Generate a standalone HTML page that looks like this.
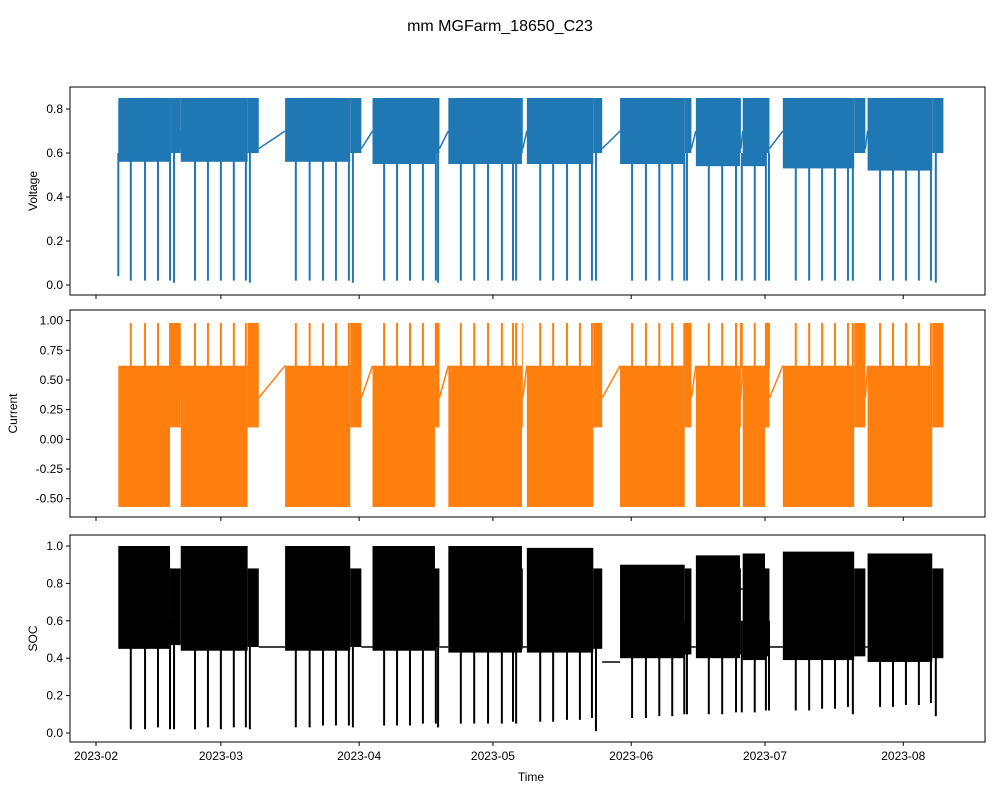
<!DOCTYPE html>
<html><head><meta charset="utf-8">
<style>
html,body{margin:0;padding:0;background:#fff;}
svg{display:block;font-family:"Liberation Sans","DejaVu Sans",sans-serif;}
</style></head>
<body>
<svg id="chart" width="1000" height="800" viewBox="0 0 1000 800">
<text x="500" y="31" text-anchor="middle" font-size="16">mm MGFarm_18650_C23</text>
</svg>
<script>
// day offsets from 2023-02-01
const blockStart = [5, 19, 42.4, 62, 79, 96.6, 117.5, 134.5, 145, 154, 173];
const blockEnd   = [16.6, 34, 57, 76, 95.5, 111.5, 132, 144.4, 150, 170, 187.5];
const tailEnd    = [19, 36.5, 59.5, 77, 95.7, 113.5, 133.5, 144.6, 151, 172.5, 190];
const vLow  = [0.56, 0.56, 0.56, 0.55, 0.55, 0.55, 0.55, 0.54, 0.54, 0.53, 0.52];
const vHigh = [0.85, 0.85, 0.85, 0.85, 0.85, 0.85, 0.85, 0.85, 0.85, 0.85, 0.85];
const vStartGap = [0.70, 0.70, 0.70, 0.70, 0.70, 0.70, 0.70, 0.70, 0.70, 0.70, 0.70];
const iLow  = [-0.57, -0.57, -0.57, -0.57, -0.57, -0.57, -0.57, -0.57, -0.57, -0.57, -0.57];
const iHigh = [0.62, 0.62, 0.62, 0.62, 0.62, 0.62, 0.62, 0.62, 0.62, 0.62, 0.62];
const socLow  = [0.45, 0.44, 0.44, 0.44, 0.43, 0.43, 0.40, 0.40, 0.39, 0.39, 0.38];
const socHigh = [1.0, 1.0, 1.0, 1.0, 1.0, 0.99, 0.90, 0.95, 0.96, 0.97, 0.96];
const socGap  = [0.46, 0.46, 0.46, 0.46, 0.46, 0.38, 0.46, 0.77, 0.46, 0.46];
const spikeDays = [7.8,11,13.9,16.6,17.5, 22.2,25.1,28,30.9,33.6,34.5, 44.8,47.9,50.9,53.8,56.7,57.6, 64.6,67.5,70.4,73.3,76.2,76.7, 81.8,84.8,87.9,91,93.5,94.2, 99.6,102.5,105.6,108.5,111.2,112.1, 120.2,123.3,126.3,129.2,131.9,132.5, 137.4,140.4,143.5,144.8, 147.7,150.2,150.9, 156.9,159.9,162.8,165.7,168.6,169.7, 175.8,178.7,181.6,184.5,187.2,188.3];
const vSpike = [0.02,0.02,0.02,0.02,0.01, 0.02,0.02,0.02,0.02,0.02,0.01, 0.02,0.02,0.02,0.02,0.02,0.01, 0.02,0.02,0.02,0.02,0.02,0.01, 0.02,0.02,0.02,0.02,0.02,0.02, 0.02,0.02,0.02,0.02,0.02,0.02, 0.02,0.02,0.02,0.02,0.02,0.02, 0.02,0.02,0.02,0.02, 0.02,0.02,0.02, 0.02,0.02,0.02,0.02,0.02,0.02, 0.02,0.02,0.02,0.02,0.02,0.01];
const iSpike = spikeDays.map(()=>0.98);
const socSpike = [0.02,0.02,0.03,0.02,0.02, 0.02,0.03,0.02,0.03,0.03,0.02, 0.03,0.03,0.04,0.04,0.04,0.03, 0.04,0.04,0.04,0.05,0.05,0.03, 0.05,0.05,0.05,0.05,0.06,0.05, 0.06,0.06,0.07,0.07,0.08,0.01, 0.08,0.08,0.09,0.09,0.10,0.10, 0.10,0.10,0.11,0.11, 0.11,0.12,0.12, 0.12,0.12,0.13,0.13,0.14,0.10, 0.14,0.14,0.15,0.15,0.16,0.09];
const xTickLabels = ["2023-02","2023-03","2023-04","2023-05","2023-06","2023-07","2023-08"];
const xTickDays = [0, 28, 59, 89, 120, 150, 181];

const NS="http://www.w3.org/2000/svg";
const svg=document.getElementById('chart');
const L=70,R=985;
const x=d=>96+d*4.46;
function el(t,a,p){const e=document.createElementNS(NS,t);for(const k in a)e.setAttribute(k,a[k]);(p||svg).appendChild(e);return e;}

const panels=[
 {name:'voltage',top:87,bot:295,y:v=>285-v*220,ticks:[0,0.2,0.4,0.6,0.8],fmt:v=>v.toFixed(1),label:'Voltage',color:'#1f77b4'},
 {name:'current',top:310,bot:517,y:v=>439.3-v*118.7,ticks:[-0.5,-0.25,0,0.25,0.5,0.75,1.0],fmt:v=>v.toFixed(2),label:'Current',color:'#ff7f0e'},
 {name:'soc',top:535,bot:742,y:v=>733-v*187,ticks:[0,0.2,0.4,0.6,0.8,1.0],fmt:v=>v.toFixed(1),label:'SOC',color:'#000000'}
];

panels.forEach((p,pi)=>{
 const g=el('g',{});
 
 
 const col=p.color;
 // series
 const lo = pi==0?vLow:pi==1?iLow:socLow;
 const hi = pi==0?vHigh:pi==1?iHigh:socHigh;
 const sp = pi==0?vSpike:pi==1?iSpike:socSpike;
 // connectors
 for(let b=0;b<blockStart.length-1;b++){
  let a,c;
  if(pi==0){a=[x(tailEnd[b]),p.y(0.62)];c=[x(blockStart[b+1]),p.y(vStartGap[b+1])];}
  else if(pi==1){a=[x(tailEnd[b]),p.y(0.35)];c=[x(blockStart[b+1]),p.y(0.62)];}
  else{a=[x(tailEnd[b]),p.y(socGap[b])];c=[x(blockStart[b+1]),p.y(socGap[b])];}
  const ln=el('line',{x1:a[0],y1:a[1],x2:c[0],y2:c[1],stroke:col,'stroke-width':1.5},g);
  
  
 }
 for(let b=0;b<blockStart.length;b++){
  const r=el('rect',{x:x(blockStart[b]),y:p.y(hi[b]),width:x(blockEnd[b])-x(blockStart[b]),height:p.y(lo[b])-p.y(hi[b]),fill:col},g);
  
  
  // tail
  let tl,th;
  if(pi==0){tl=0.6;th=0.85;}else if(pi==1){tl=0.1;th=0.98;}else{tl=lo[b]+0.02;th=0.88;}
  const t=el('rect',{x:x(blockEnd[b]),y:p.y(th),width:x(tailEnd[b])-x(blockEnd[b]),height:p.y(tl)-p.y(th),fill:col},g);
  
  
 }
 if(pi==1){
  // start spike segment
 }
 spikeDays.forEach((d,i)=>{
  const base = pi==1?0.6:0.6;
  const s=el('line',{x1:x(d),x2:x(d),y1:p.y(base),y2:p.y(sp[i]),stroke:col,'stroke-width':2},g);
  
  
 });
 if(pi==0){const s=el('line',{x1:x(5),x2:x(5),y1:p.y(0.6),y2:p.y(0.04),stroke:col,'stroke-width':2},g);
  }
 // frame
 const f=el('rect',{x:L,y:p.top,width:R-L,height:p.bot-p.top,fill:'none',stroke:'#000','stroke-width':1},g);
 
 
 p.ticks.forEach(v=>{
  const yy=p.y(v);
  el('line',{x1:L-4,x2:L,y1:yy,y2:yy,stroke:'#000'},g);
  const t=el('text',{x:L-7,y:yy+4,'text-anchor':'end','font-size':12},g);
  t.textContent=p.fmt(v);
  
  
 });
 xTickDays.forEach((d,i)=>{
  el('line',{x1:x(d),x2:x(d),y1:p.bot,y2:p.bot+4,stroke:'#000'},g);
  if(pi==2){const t=el('text',{x:x(d),y:p.bot+18,'text-anchor':'middle','font-size':12},g);
   t.textContent=xTickLabels[i];
   
   }
 });
 const yl=el('text',{x:0,y:0,'text-anchor':'middle','font-size':12,transform:`translate(${pi==1?17:37},${(p.top+p.bot)/2}) rotate(-90)`},g);
 yl.textContent=p.label;
 
 
});
const xl=el('text',{x:531,y:781,'text-anchor':'middle','font-size':12});
xl.textContent='Time';


</script>
</body></html>
